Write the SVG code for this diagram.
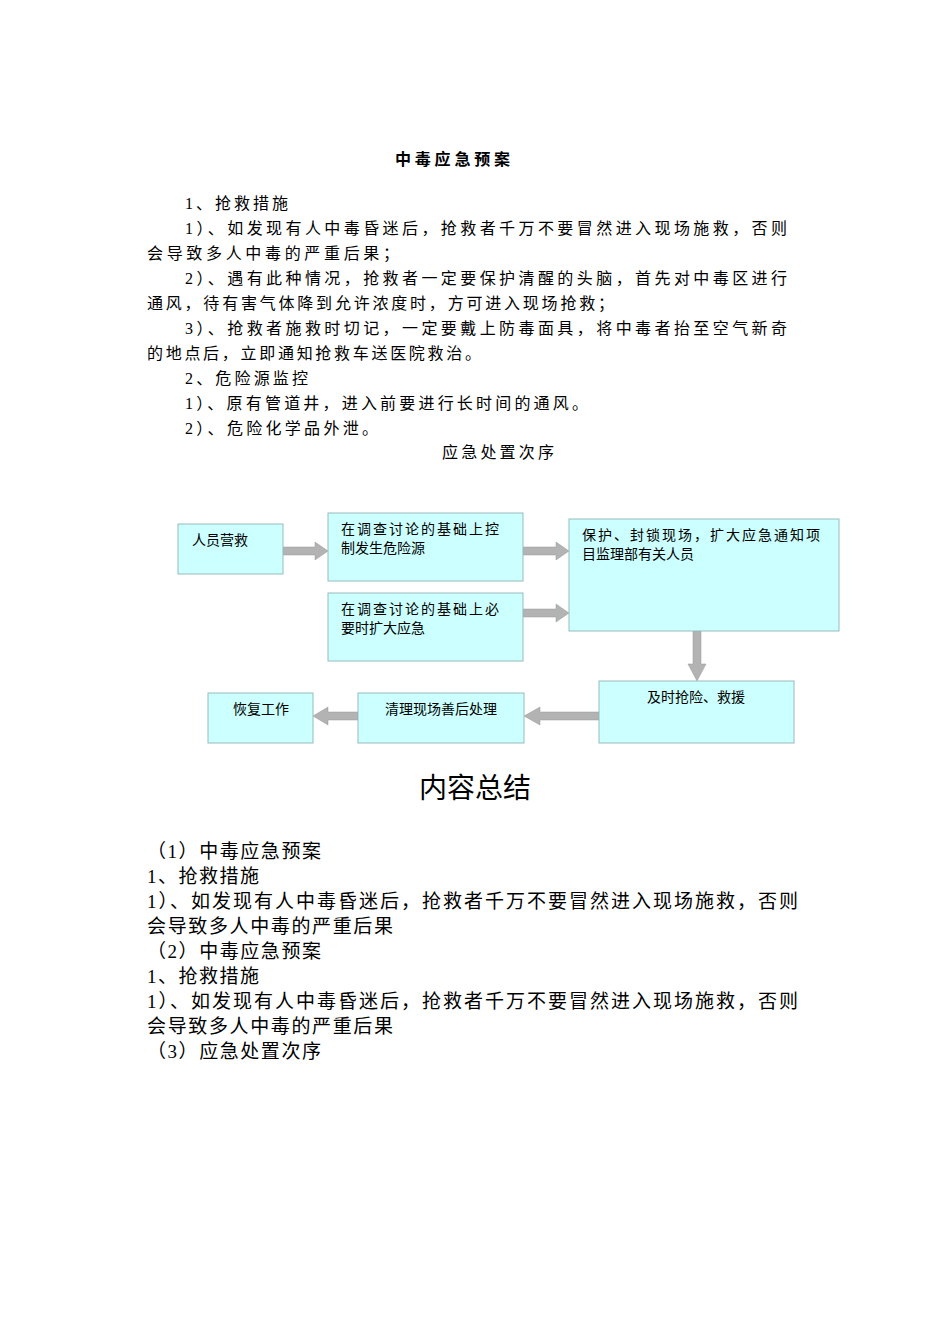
<svg xmlns="http://www.w3.org/2000/svg" width="950" height="1344" viewBox="0 0 950 1344">
<style>
text{font-family:"Liberation Serif","Noto Sans CJK SC",serif;fill:#000}
.b{font-size:16px}
.s{font-size:19px}
.n{font-size:14px}
.box{fill:#ccffff;stroke:#9bb;stroke-width:1}
.ar{fill:#b3b3b3;stroke:#999;stroke-width:0.5}
</style>
<rect width="950" height="1344" fill="#fff"/>
<text x="395" y="165" font-size="16" font-weight="bold" textLength="115">中毒应急预案</text>
<g class="b">
<text x="185" y="209" textLength="103">1、抢救措施</text>
<text x="185" y="234" textLength="602">1）、如发现有人中毒昏迷后，抢救者千万不要冒然进入现场施救，否则</text>
<text x="147" y="259" textLength="252">会导致多人中毒的严重后果；</text>
<text x="185" y="284" textLength="602">2）、遇有此种情况，抢救者一定要保护清醒的头脑，首先对中毒区进行</text>
<text x="147" y="309" textLength="467">通风，待有害气体降到允许浓度时，方可进入现场抢救；</text>
<text x="185" y="334" textLength="602">3）、抢救者施救时切记，一定要戴上防毒面具，将中毒者抬至空气新奇</text>
<text x="147" y="359" textLength="334">的地点后，立即通知抢救车送医院救治。</text>
<text x="185" y="384" textLength="123">2、危险源监控</text>
<text x="185" y="409" textLength="403">1）、原有管道井，进入前要进行长时间的通风。</text>
<text x="185" y="434" textLength="193">2）、危险化学品外泄。</text>
<text x="442" y="458" textLength="112">应急处置次序</text>
</g>
<g id="connectors">
<polygon class="ar" points="283,547 315,547 315,542 328,551 315,560 315,555 283,555"/>
<polygon class="ar" points="523,547 556,547 556,542 569,551 556,560 556,555 523,555"/>
<polygon class="ar" points="523,609 556,609 556,604 569,613 556,622 556,617 523,617"/>
<polygon class="ar" points="693,631 701,631 701,664 706,664 697,681 688,664 693,664"/>
<polygon class="ar" points="599,712 540,712 540,707 524,716 540,725 540,720 599,720"/>
<polygon class="ar" points="358,712 328,712 328,707 313,716 328,725 328,720 358,720"/>
</g>
<g id="n1"><rect class="box" x="178" y="524" width="105" height="50"/><text class="n" x="192" y="545">人员营救</text></g>
<g id="n2"><rect class="box" x="328" y="513" width="195" height="68"/><text class="n" x="341" y="534" textLength="158">在调查讨论的基础上控</text><text class="n" x="341" y="553">制发生危险源</text></g>
<g id="n3"><rect class="box" x="328" y="593" width="195" height="68"/><text class="n" x="341" y="614" textLength="158">在调查讨论的基础上必</text><text class="n" x="341" y="633">要时扩大应急</text></g>
<g id="n4"><rect class="box" x="569" y="519" width="270" height="112"/><text class="n" x="582" y="540" textLength="238">保护、封锁现场，扩大应急通知项</text><text class="n" x="582" y="559">目监理部有关人员</text></g>
<g id="n5"><rect class="box" x="599" y="681" width="195" height="62"/><text class="n" x="696" y="702" text-anchor="middle">及时抢险、救援</text></g>
<g id="n6"><rect class="box" x="358" y="693" width="166" height="50"/><text class="n" x="441" y="714" text-anchor="middle">清理现场善后处理</text></g>
<g id="n7"><rect class="box" x="208" y="693" width="105" height="50"/><text class="n" x="261" y="714" text-anchor="middle">恢复工作</text></g>
<text x="475" y="798" text-anchor="middle" font-size="28">内容总结</text>
<g class="s">
<text x="147" y="858" textLength="174">（1）中毒应急预案</text>
<text x="147" y="883" textLength="112">1、抢救措施</text>
<text x="147" y="908" textLength="651">1）、如发现有人中毒昏迷后，抢救者千万不要冒然进入现场施救，否则</text>
<text x="147" y="933" textLength="246">会导致多人中毒的严重后果</text>
<text x="147" y="958" textLength="174">（2）中毒应急预案</text>
<text x="147" y="983" textLength="112">1、抢救措施</text>
<text x="147" y="1008" textLength="651">1）、如发现有人中毒昏迷后，抢救者千万不要冒然进入现场施救，否则</text>
<text x="147" y="1033" textLength="246">会导致多人中毒的严重后果</text>
<text x="147" y="1058" textLength="174">（3）应急处置次序</text>
</g>
</svg>
